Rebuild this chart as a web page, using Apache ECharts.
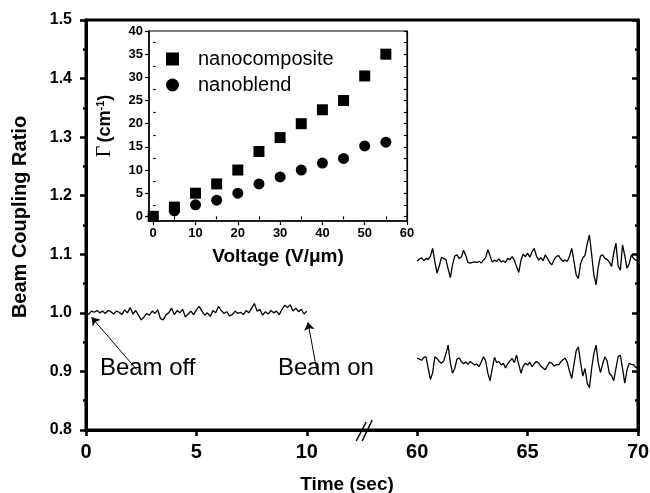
<!DOCTYPE html>
<html><head><meta charset="utf-8">
<script src="https://cdn.jsdelivr.net/npm/echarts@6/dist/echarts.min.js"></script>
<style>html,body{margin:0;padding:0;background:#fff}#c{width:650px;height:493px}</style>
</head><body><div id="c"></div>
<script>
// ---------- data ----------
const xTickLabels = ['0', '5', '10', '60', '65', '70'];
const timeOff = [0,0.125,0.25,0.375,0.5,0.625,0.75,0.875,1,1.125,1.25,1.375,1.5,1.625,1.75,1.875,2,2.125,2.25,2.375,2.5,2.625,2.75,2.875,3,3.125,3.25,3.375,3.5,3.625,3.75,3.875,4,4.125,4.25,4.375,4.5,4.625,4.75,4.875,5,5.125,5.25,5.375,5.5,5.625,5.75,5.875,6,6.125,6.25,6.375,6.5,6.625,6.75,6.875,7,7.125,7.25,7.375,7.5,7.625,7.75,7.875,8,8.125,8.25,8.375,8.5,8.625,8.75,8.875,9,9.125,9.25,9.375,9.5,9.625,9.75,9.875,10];
const ratioOff = [0.994,0.998,1.003,1.001,1.004,1.000,1.003,0.999,1.004,1.002,
0.998,1.003,1.001,0.997,1.005,1.000,1.009,0.998,1.004,0.996,
0.988,0.993,0.999,0.996,1.003,0.999,1.005,0.990,0.988,0.997,
1.000,1.008,0.997,1.004,1.000,1.006,0.993,0.998,1.003,0.997,
1.005,1.011,1.003,0.996,1.000,0.994,1.004,1.000,1.011,1.004,
0.999,1.002,0.995,0.997,1.003,0.999,1.001,0.997,1.004,1.000,
1.008,1.016,1.003,1.006,0.996,1.002,0.998,1.004,1.000,1.003,
0.997,1.006,1.013,1.009,1.014,1.003,1.008,1.002,1.006,0.998,
1.003];
const timeOn = [60,60.1,60.2,60.3,60.4,60.5,60.6,60.7,60.8,60.9,
61,61.1,61.2,61.3,61.4,61.5,61.6,61.7,61.8,61.9,
62,62.1,62.2,62.3,62.4,62.5,62.6,62.7,62.8,62.9,
63,63.1,63.2,63.3,63.4,63.5,63.6,63.7,63.8,63.9,
64,64.1,64.2,64.3,64.4,64.5,64.6,64.7,64.8,64.9,
65,65.1,65.2,65.3,65.4,65.5,65.6,65.7,65.8,65.9,
66,66.1,66.2,66.3,66.4,66.5,66.6,66.7,66.8,66.9,
67,67.1,67.2,67.3,67.4,67.5,67.6,67.7,67.8,67.9,
68,68.1,68.2,68.3,68.4,68.5,68.6,68.7,68.8,68.9,
69,69.1,69.2,69.3,69.4,69.5,69.6,69.7,69.8,69.9,
70];
const ratioUpper = [1.088,1.092,1.094,1.089,1.093,1.091,1.097,1.110,1.087,1.068,
1.080,1.095,1.093,1.091,1.075,1.060,1.082,1.097,1.099,1.093,
1.095,1.107,1.098,1.086,1.085,1.086,1.087,1.086,1.088,1.085,
1.090,1.094,1.108,1.097,1.087,1.090,1.088,1.092,1.087,1.089,
1.086,1.093,1.091,1.096,1.090,1.079,1.069,1.090,1.100,1.096,
1.102,1.095,1.104,1.110,1.097,1.090,1.094,1.089,1.099,1.093,
1.086,1.082,1.091,1.096,1.098,1.092,1.088,1.090,1.088,1.097,
1.110,1.088,1.065,1.059,1.084,1.094,1.098,1.118,1.133,1.100,
1.065,1.048,1.078,1.097,1.099,1.093,1.091,1.087,1.079,1.102,
1.119,1.080,1.073,1.116,1.098,1.076,1.084,1.099,1.093,1.090,
1.089];
const ratioLower = [0.923,0.921,0.919,0.924,0.925,0.905,0.886,0.898,0.925,0.922,
0.917,0.914,0.918,0.930,0.945,0.915,0.897,0.905,0.921,0.923,
0.917,0.913,0.916,0.912,0.917,0.914,0.911,0.913,0.908,0.916,
0.925,0.918,0.897,0.884,0.905,0.924,0.915,0.917,0.911,0.914,
0.906,0.913,0.918,0.922,0.915,0.928,0.912,0.897,0.909,0.914,
0.911,0.916,0.908,0.913,0.917,0.914,0.909,0.906,0.903,0.910,
0.916,0.914,0.909,0.912,0.911,0.916,0.920,0.923,0.915,0.900,
0.888,0.912,0.935,0.942,0.915,0.892,0.905,0.880,0.872,0.905,
0.930,0.945,0.915,0.898,0.913,0.925,0.918,0.897,0.893,0.884,
0.905,0.925,0.928,0.905,0.880,0.902,0.914,0.912,0.911,0.907,
0.905];
const voltage = [0,5,10,15,20,25,30,35,40,45,50,55];
const gainComposite = [0,2,5,7,10,14,17,20,23,25,30.3,35];
const gainBlend = [0,1.2,2.5,3.5,5,7,8.5,10,11.5,12.5,15.2,16];
const insetXLabels = [0,10,20,30,40,50,60];
const insetXMinor = [5,15,25,35,45,55];
const insetYLabels = [0,5,10,15,20,25,30,35,40];
const insetYMinor = [2.5,7.5,12.5,17.5,22.5,27.5,32.5,37.5];
const insetYRight = [0,2.5,5,7.5,10,12.5,15,17.5,20,22.5,25,27.5,30,32.5,35,37.5,40];

// broken time axis: 10..60 s is collapsed into a 5-unit gap
const BREAK_START = 10, BREAK_END = 60, BREAK_GAP = 5;
const SHIFT = BREAK_END - BREAK_START - BREAK_GAP;
function toAxis(t) { return t <= BREAK_START ? t : t - SHIFT; }
const BREAK_MARK_AT = 12.6;

const FF = 'Liberation Sans';
const chart = echarts.init(document.getElementById('c'), null, {renderer: 'canvas'});

const pairs = (xs, ys) => xs.map((x, i) => [toAxis(x), ys[i]]);
const pairsRaw = (xs, ys) => xs.map((x, i) => [x, ys[i]]);

const lineStyle = {color: '#000', width: 1.3};

const option = {
  animation: false,
  backgroundColor: '#fff',
  textStyle: {fontFamily: FF, color: '#000'},
  grid: [
    {left: 86, right: 12, top: 20, bottom: 63, show: true, borderColor: '#000', borderWidth: 3, containLabel: false, outerBoundsMode: 'none'},
    {left: 149, top: 31, width: 258, height: 190, show: true, borderColor: '#000', borderWidth: 1.2, backgroundColor: 'transparent', z: 5, outerBoundsMode: 'none'}
  ],
  legend: {
    orient: 'vertical', left: 161, top: 44, itemWidth: 13, itemHeight: 13, itemGap: 6,
    data: [{name: 'nanocomposite', icon: 'rect'}, {name: 'nanoblend', icon: 'circle'}],
    itemStyle: {color: '#000', opacity: 1},
    textStyle: {fontSize: 20, fontFamily: FF, color: '#000', lineHeight: 20, padding: [0, 0, 0, 14]},
    selectedMode: false
  },
  xAxis: [
    {
      gridIndex: 0, type: 'value', min: 0, max: 25, interval: 5,
      axisLine: {show: true, onZero: false, lineStyle: {color: '#000', width: 3}},
      axisTick: {show: true, inside: false, length: 6, lineStyle: {color: '#000', width: 2.5}},
      axisLabel: {fontSize: 20, fontWeight: 'bold', fontFamily: FF, color: '#000', margin: 12,
        formatter: v => xTickLabels[Math.round(v / 5)]},
      splitLine: {show: false},
      name: 'Time (sec)', nameLocation: 'middle', nameGap: 45,
      nameTextStyle: {fontSize: 19, fontWeight: 'bold', fontFamily: FF, color: '#000', padding: [0, 30, 0, 0]}
    },
    {
      gridIndex: 1, type: 'value', min: -1, max: 60,
      axisLine: {show: true, onZero: false, lineStyle: {color: '#000', width: 1.5}},
      axisTick: {show: true, inside: false, length: 4, customValues: insetXLabels, lineStyle: {color: '#000', width: 1.2}},
      axisLabel: {fontSize: 13, fontWeight: 'bold', fontFamily: FF, color: '#000', margin: 6, customValues: insetXLabels},
      splitLine: {show: false},
      name: 'Voltage (V/\u03bcm)', nameLocation: 'middle', nameGap: 26,
      nameTextStyle: {fontSize: 19, fontWeight: 'bold', fontFamily: FF, color: '#000'}
    },
    {
      gridIndex: 1, type: 'value', min: -1, max: 60,
      axisLine: {show: false},
      axisTick: {show: true, inside: true, length: 3, customValues: insetXMinor, lineStyle: {color: '#000', width: 1.2}},
      axisLabel: {show: false},
      splitLine: {show: false}
    }
  ],
  yAxis: [
    {
      gridIndex: 0, type: 'value', min: 0.8, max: 1.5, interval: 0.1,
      axisLine: {show: true, onZero: false, lineStyle: {color: '#000', width: 3}},
      axisTick: {show: true, inside: false, length: 6, lineStyle: {color: '#000', width: 2.5}},
      minorTick: {show: true, splitNumber: 2, length: 3, lineStyle: {color: '#000', width: 2.5}},
      axisLabel: {fontSize: 16, fontWeight: 'bold', fontFamily: FF, color: '#000', margin: 14,
        formatter: v => v.toFixed(1)},
      splitLine: {show: false},
      name: 'Beam Coupling Ratio', nameLocation: 'middle', nameGap: 56,
      nameTextStyle: {fontSize: 20, fontWeight: 'bold', fontFamily: FF, color: '#000', padding: [0, 0, 0, 16]}
    },
    {
      gridIndex: 0, type: 'value', min: 0.8, max: 1.5, interval: 0.1, position: 'right',
      axisLine: {show: true, onZero: false, lineStyle: {color: '#000', width: 3}},
      axisTick: {show: true, inside: true, length: 6, lineStyle: {color: '#000', width: 2.5}},
      minorTick: {show: true, splitNumber: 2, length: 3, lineStyle: {color: '#000', width: 2.5}},
      axisLabel: {show: false},
      splitLine: {show: false}
    },
    {
      gridIndex: 1, type: 'value', min: -1, max: 40,
      axisLine: {show: true, onZero: false, lineStyle: {color: '#000', width: 1.5}},
      axisTick: {show: true, inside: false, length: 4, customValues: insetYLabels, lineStyle: {color: '#000', width: 1.2}},
      axisLabel: {fontSize: 13, fontWeight: 'bold', fontFamily: FF, color: '#000', margin: 6, customValues: insetYLabels},
      splitLine: {show: false},
      name: '{g|\u0393} {b|(cm}{s|-1}{b|)}', nameLocation: 'middle', nameGap: 34,
      nameTextStyle: {
        color: '#000',
        rich: {
          g: {fontFamily: 'Liberation Serif', fontSize: 20, color: '#000', lineHeight: 20},
          b: {fontFamily: FF, fontWeight: 'bold', fontSize: 18, color: '#000', lineHeight: 20},
          s: {fontFamily: FF, fontWeight: 'bold', fontSize: 11, color: '#000', verticalAlign: 'top', lineHeight: 20, padding: [0, 0, 8, 0]}
        }
      }
    },
    {
      gridIndex: 1, type: 'value', min: -1, max: 40,
      axisLine: {show: false},
      axisTick: {show: true, inside: false, length: 2.5, customValues: insetYMinor, lineStyle: {color: '#000', width: 1.2}},
      axisLabel: {show: false},
      splitLine: {show: false}
    },
    {
      gridIndex: 1, type: 'value', min: -1, max: 40, position: 'right',
      axisLine: {show: true, onZero: false, lineStyle: {color: '#000', width: 1.2}},
      axisTick: {show: true, inside: true, length: 3, customValues: insetYRight, lineStyle: {color: '#000', width: 1.2}},
      axisLabel: {show: false},
      splitLine: {show: false}
    }
  ],
  series: [
    {
      name: 'beam off', type: 'line', xAxisIndex: 0, yAxisIndex: 0,
      data: pairs(timeOff, ratioOff), showSymbol: false, symbol: 'none', lineStyle: lineStyle, z: 3,
      markLine: {
        silent: true, symbol: ['none', 'arrow'], symbolSize: 8, animation: false,
        label: {show: false},
        lineStyle: {color: '#000', width: 1, type: 'solid', opacity: 1},
        emphasis: {disabled: true},
        data: [
          [{coord: [2.3, 0.903]}, {coord: [0.25, 0.9925]}],
          [{coord: [10.45, 0.903]}, {coord: [10.05, 0.984]}]
        ]
      }
    },
    {name: 'upper', type: 'line', xAxisIndex: 0, yAxisIndex: 0, data: pairs(timeOn, ratioUpper), showSymbol: false, symbol: 'none', lineStyle: lineStyle, z: 3},
    {name: 'lower', type: 'line', xAxisIndex: 0, yAxisIndex: 0, data: pairs(timeOn, ratioLower), showSymbol: false, symbol: 'none', lineStyle: lineStyle, z: 3},
    {
      name: 'break', type: 'custom', xAxisIndex: 0, yAxisIndex: 0, clip: false, z: 10,
      data: [[BREAK_MARK_AT, 0.8]],
      renderItem: (params, api) => {
        const p = api.coord([api.value(0), api.value(1)]);
        const st = {stroke: '#000', lineWidth: 1.5};
        return {type: 'group', children: [
          {type: 'line', shape: {x1: p[0] - 8, y1: p[1] + 11, x2: p[0] + 2, y2: p[1] - 8}, style: st},
          {type: 'line', shape: {x1: p[0] - 2, y1: p[1] + 11, x2: p[0] + 8, y2: p[1] - 10}, style: st}
        ]};
      }
    },
    {name: 'nanocomposite', type: 'scatter', xAxisIndex: 1, yAxisIndex: 2, data: pairsRaw(voltage, gainComposite),
      symbol: 'rect', symbolSize: 11, itemStyle: {color: '#000', opacity: 1}, z: 6},
    {name: 'nanoblend', type: 'scatter', xAxisIndex: 1, yAxisIndex: 2, data: pairsRaw(voltage, gainBlend),
      symbol: 'circle', symbolSize: 11, itemStyle: {color: '#000', opacity: 1}, z: 6}
  ]
};
chart.setOption(option);

// annotation texts placed in data coordinates
const annotations = [
  {text: 'Beam off', at: [0.63, 0.906]},
  {text: 'Beam on', at: [8.69, 0.906]}
];
chart.setOption({
  graphic: annotations.map(a => {
    const p = chart.convertToPixel({xAxisIndex: 0, yAxisIndex: 0}, a.at);
    return {type: 'text', x: p[0], y: p[1], z: 20,
      style: {text: a.text, fontSize: 24, fontFamily: FF, fill: '#000', verticalAlign: 'middle', align: 'left'}};
  })
});
</script>
</body></html>
